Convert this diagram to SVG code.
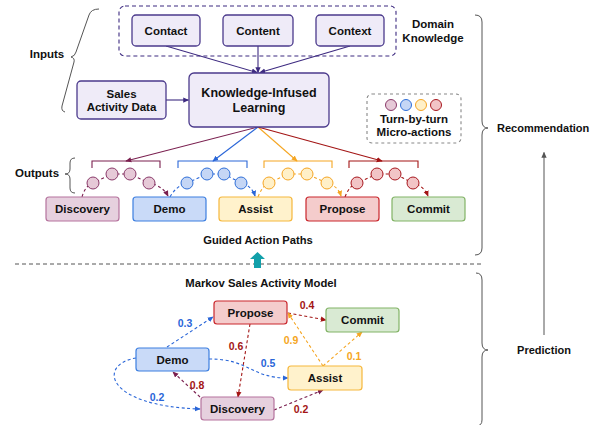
<svg xmlns="http://www.w3.org/2000/svg" width="598" height="425" viewBox="0 0 598 425">
<defs>
<style>
text{font-family:"Liberation Sans",Arial,sans-serif;font-weight:bold;fill:#111;}
.t{font-size:11.5px;text-anchor:middle;}
.lb{font-size:10.5px;text-anchor:middle;}
.pn{fill:#efebf8;stroke:#4b3a8c;stroke-width:1.3;}
.brace{fill:none;stroke:#555;stroke-width:1;}
.pl{fill:none;stroke:#3d2a80;stroke-width:1.1;}
.dsh{fill:none;stroke-width:1.1;stroke-dasharray:3 2.5;}
.mv{stroke:#7a1f4f;} .bl{stroke:#2a66d8;} .yl{stroke:#f5a623;} .rd{stroke:#a31515;}
.cm{fill:#e6c9d7;stroke:#8a3a6a;} .cb{fill:#c5d6f5;stroke:#2f6fd8;} .cy{fill:#fff0c8;stroke:#f5a524;} .cr{fill:#f2c4c6;stroke:#a8181f;}
.nDis{fill:#e6d0de;stroke:#b5739d;stroke-width:1.2;}
.nDem{fill:#c9daf8;stroke:#3d7fe0;stroke-width:1.2;}
.nAs{fill:#fff2cc;stroke:#f6b73c;stroke-width:1.2;}
.nPr{fill:#f4cccc;stroke:#c9262c;stroke-width:1.2;}
.nCo{fill:#d9ead3;stroke:#82b366;stroke-width:1.2;}
</style>
<marker id="aP" viewBox="0 0 8 8" refX="7" refY="4" markerWidth="6" markerHeight="6" orient="auto" markerUnits="userSpaceOnUse"><path d="M0,0.5 L8,4 L0,7.5 Z" fill="#3d2a80"/></marker>
<marker id="aM" viewBox="0 0 8 8" refX="7" refY="4" markerWidth="6" markerHeight="6" orient="auto" markerUnits="userSpaceOnUse"><path d="M0,0.5 L8,4 L0,7.5 Z" fill="#7a1f4f"/></marker>
<marker id="aB" viewBox="0 0 8 8" refX="7" refY="4" markerWidth="6" markerHeight="6" orient="auto" markerUnits="userSpaceOnUse"><path d="M0,0.5 L8,4 L0,7.5 Z" fill="#2a66d8"/></marker>
<marker id="aY" viewBox="0 0 8 8" refX="7" refY="4" markerWidth="6" markerHeight="6" orient="auto" markerUnits="userSpaceOnUse"><path d="M0,0.5 L8,4 L0,7.5 Z" fill="#f5a623"/></marker>
<marker id="aR" viewBox="0 0 8 8" refX="7" refY="4" markerWidth="6" markerHeight="6" orient="auto" markerUnits="userSpaceOnUse"><path d="M0,0.5 L8,4 L0,7.5 Z" fill="#a31515"/></marker>
<marker id="aG" viewBox="0 0 8 8" refX="7" refY="4" markerWidth="6" markerHeight="6" orient="auto" markerUnits="userSpaceOnUse"><path d="M0,0.5 L8,4 L0,7.5 Z" fill="#555"/></marker>
</defs>
<rect width="598" height="425" fill="#fff"/>

<!-- braces and section labels -->
<g id="braces">
<path class="brace" d="M99,9 Q91,9 89,15 L76,52 Q75,56 71,57 Q75,58 74,62 L62,106 Q61,111 65,112"/>
<path class="brace" d="M75,158 Q70,158 70,163 L70,169 Q70,174 65,174 Q70,174 70,179 L70,188 Q70,193 75,193"/>
<path class="brace" d="M475,15 Q482,15 482,22 L482,121 Q482,128 488,128 Q482,128 482,135 L482,248 Q482,255 475,255"/>
<path class="brace" d="M476,273 Q482,273 482,280 L482,343 Q482,350 488,350 Q482,350 482,357 L482,420 Q482,426 476,426"/>
</g>
<text class="t" x="47" y="58">Inputs</text>
<text class="t" x="37" y="177">Outputs</text>
<text x="497" y="132" style="font-size:11px">Recommendation</text>
<text class="t" x="544" y="354" style="font-size:11px">Prediction</text>
<text class="t" x="433" y="28">Domain</text>
<text class="t" x="433" y="42">Knowledge</text>
<text class="t" x="258" y="244" style="font-size:11.2px">Guided Action Paths</text>
<text class="t" x="261" y="287" style="font-size:11.3px">Markov Sales Activity Model</text>

<line x1="15" y1="264" x2="483" y2="264" stroke="#555" stroke-width="1" stroke-dasharray="4 3"/>
<path d="M254,268 L254,259 L250,259 L257.5,252 L265,259 L261,259 L261,268 Z" fill="#12a0aa"/>

<!-- Domain knowledge group box -->
<rect x="119" y="6" width="277" height="50" rx="6" fill="none" stroke="#3d2a80" stroke-width="1.1" stroke-dasharray="4 3"/>

<!-- Micro-actions legend -->
<g id="legend">
<rect x="367" y="94" width="94" height="49" rx="5" fill="none" stroke="#888" stroke-width="1.1" stroke-dasharray="3 3"/>
<circle class="cm" cx="391" cy="105" r="5.5"/>
<circle class="cb" cx="406" cy="105" r="5.5"/>
<circle class="cy" cx="421" cy="105" r="5.5"/>
<circle class="cr" cx="436" cy="105" r="5.5"/>
<text class="t" x="414" y="123">Turn-by-turn</text>
<text class="t" x="414" y="136">Micro-actions</text>
</g>

<!-- connectors -->
<g id="connectors">
<line class="pl" x1="166" y1="46" x2="257" y2="72.5" marker-end="url(#aP)"/>
<line class="pl" x1="258" y1="46" x2="258" y2="72.5" marker-end="url(#aP)"/>
<line class="pl" x1="350" y1="46" x2="260" y2="72.5" marker-end="url(#aP)"/>
<line class="pl" x1="166" y1="100" x2="188.5" y2="100" marker-end="url(#aP)"/>
<line x1="258" y1="127" x2="126" y2="161" stroke="#7a1f4f" stroke-width="1.1" marker-end="url(#aM)"/>
<line x1="258" y1="127" x2="213" y2="161" stroke="#2a66d8" stroke-width="1.1" marker-end="url(#aB)"/>
<line x1="258" y1="127" x2="297" y2="161" stroke="#f5a623" stroke-width="1.1" marker-end="url(#aY)"/>
<line x1="258" y1="127" x2="382" y2="161" stroke="#a31515" stroke-width="1.1" marker-end="url(#aR)"/>
<!-- brackets -->
<path d="M92,168 L92,161 L160,161 L160,168" fill="none" stroke="#7a1f4f" stroke-width="1.1"/>
<path d="M178,168 L178,161 L247,161 L247,168" fill="none" stroke="#2a66d8" stroke-width="1.1"/>
<path d="M264,168 L264,161 L332,161 L332,168" fill="none" stroke="#f5a623" stroke-width="1.1"/>
<path d="M349,168 L349,161 L418,161 L418,168" fill="none" stroke="#a31515" stroke-width="1.1"/>
<!-- chains -->
<path class="dsh mv" d="M82,197 Q85,186 93,183 L112,174 L130,174 L149,183 Q163,186 168,196" marker-end="url(#aM)"/>
<path class="dsh bl" d="M170,197 Q176,186 187,183 L207,174 L224,174 L241,183 Q252,186 255,196" marker-end="url(#aB)"/>
<path class="dsh yl" d="M258,197 Q262,186 269,183 L288,174 L307,174 L327,183 Q338,186 341,196" marker-end="url(#aY)"/>
<path class="dsh rd" d="M345,197 Q349,186 357,183 L377,174 L395,174 L413,183 Q424,186 428,196" marker-end="url(#aR)"/>
<!-- markov edges -->
<path class="dsh bl" d="M167,347 L213,317" marker-end="url(#aB)"/>
<path class="dsh rd" d="M250,324 L238,397" marker-end="url(#aR)"/>
<path class="dsh mv" d="M200,397 L173,372" marker-end="url(#aM)"/>
<path class="dsh bl" d="M136,358 C98,364 104,406 200,409" marker-end="url(#aB)"/>
<path class="dsh bl" d="M209,359 C250,359 250,378 288,378" marker-end="url(#aB)"/>
<path class="dsh mv" d="M274,410 L323,390" marker-end="url(#aM)"/>
<path class="dsh rd" d="M288,313 L326,320" marker-end="url(#aR)"/>
<path class="dsh yl" d="M323,366 L288,313" marker-end="url(#aY)"/>
<path class="dsh yl" d="M323,366 L362,332" marker-end="url(#aY)"/>
<line x1="544" y1="335" x2="544" y2="152.5" stroke="#555" stroke-width="1" marker-end="url(#aG)"/>
</g>

<!-- chain circles -->
<g id="chains">
<circle class="cm" cx="93" cy="183" r="6"/><circle class="cm" cx="112" cy="174" r="6"/><circle class="cm" cx="130" cy="174" r="6"/><circle class="cm" cx="149" cy="183" r="6"/>
<circle class="cb" cx="187" cy="183" r="6"/><circle class="cb" cx="207" cy="174" r="6"/><circle class="cb" cx="224" cy="174" r="6"/><circle class="cb" cx="241" cy="183" r="6"/>
<circle class="cy" cx="269" cy="183" r="6"/><circle class="cy" cx="288" cy="174" r="6"/><circle class="cy" cx="307" cy="174" r="6"/><circle class="cy" cx="327" cy="183" r="6"/>
<circle class="cr" cx="357" cy="183" r="6"/><circle class="cr" cx="377" cy="174" r="6"/><circle class="cr" cx="395" cy="174" r="6"/><circle class="cr" cx="413" cy="183" r="6"/>
</g>

<!-- top nodes -->
<g id="contact"><rect class="pn" x="132" y="15" width="68" height="31" rx="4"/><text class="t" x="166" y="35">Contact</text></g>
<g id="content"><rect class="pn" x="223" y="15" width="70" height="31" rx="4"/><text class="t" x="258" y="35">Content</text></g>
<g id="context"><rect class="pn" x="316" y="15" width="68" height="31" rx="4"/><text class="t" x="350" y="35">Context</text></g>
<g id="sales"><rect class="pn" x="77" y="81" width="89" height="38" rx="4"/><text class="t" x="121.5" y="98">Sales</text><text class="t" x="121.5" y="111">Activity Data</text></g>
<g id="kil"><rect class="pn" x="189" y="73" width="140" height="54" rx="5"/><text class="t" x="259" y="97" style="font-size:12.5px">Knowledge-Infused</text><text class="t" x="259" y="112" style="font-size:12.5px">Learning</text></g>

<!-- output nodes -->
<g id="out-discovery"><rect class="nDis" x="46" y="197" width="73" height="24" rx="3"/><text class="t" x="82.5" y="213">Discovery</text></g>
<g id="out-demo"><rect class="nDem" x="133" y="197" width="73" height="24" rx="3"/><text class="t" x="169.5" y="213">Demo</text></g>
<g id="out-assist"><rect class="nAs" x="219" y="197" width="73" height="24" rx="3"/><text class="t" x="255.5" y="213">Assist</text></g>
<g id="out-propose"><rect class="nPr" x="306" y="197" width="73" height="24" rx="3"/><text class="t" x="342.5" y="213">Propose</text></g>
<g id="out-commit"><rect class="nCo" x="392" y="197" width="73" height="24" rx="3"/><text class="t" x="428.5" y="213">Commit</text></g>

<!-- markov nodes -->
<g id="m-propose"><rect class="nPr" x="214" y="301" width="73" height="23" rx="3"/><text class="t" x="250.5" y="316.5">Propose</text></g>
<g id="m-demo"><rect class="nDem" x="136" y="348" width="73" height="23" rx="3"/><text class="t" x="172.5" y="363.5">Demo</text></g>
<g id="m-discovery"><rect class="nDis" x="201" y="397" width="73" height="23" rx="3"/><text class="t" x="237.5" y="412.5">Discovery</text></g>
<g id="m-commit"><rect class="nCo" x="326" y="308" width="73" height="24" rx="3"/><text class="t" x="362.5" y="324">Commit</text></g>
<g id="m-assist"><rect class="nAs" x="288" y="366" width="74" height="24" rx="3"/><text class="t" x="325" y="382">Assist</text></g>

<!-- edge labels -->
<g id="edge-labels">
<text class="lb" x="185" y="327" fill="#2a66d8" style="fill:#2a66d8">0.3</text>
<text class="lb" x="236" y="350" style="fill:#a31515">0.6</text>
<text class="lb" x="197" y="389" style="fill:#a31515">0.8</text>
<text class="lb" x="157" y="401" style="fill:#2a66d8">0.2</text>
<text class="lb" x="268" y="367" style="fill:#2a66d8">0.5</text>
<text class="lb" x="301" y="413" style="fill:#a31515">0.2</text>
<text class="lb" x="307" y="309" style="fill:#a31515">0.4</text>
<text class="lb" x="291" y="344" style="fill:#f5a623">0.9</text>
<text class="lb" x="354" y="360" style="fill:#f5a623">0.1</text>
</g>
</svg>
